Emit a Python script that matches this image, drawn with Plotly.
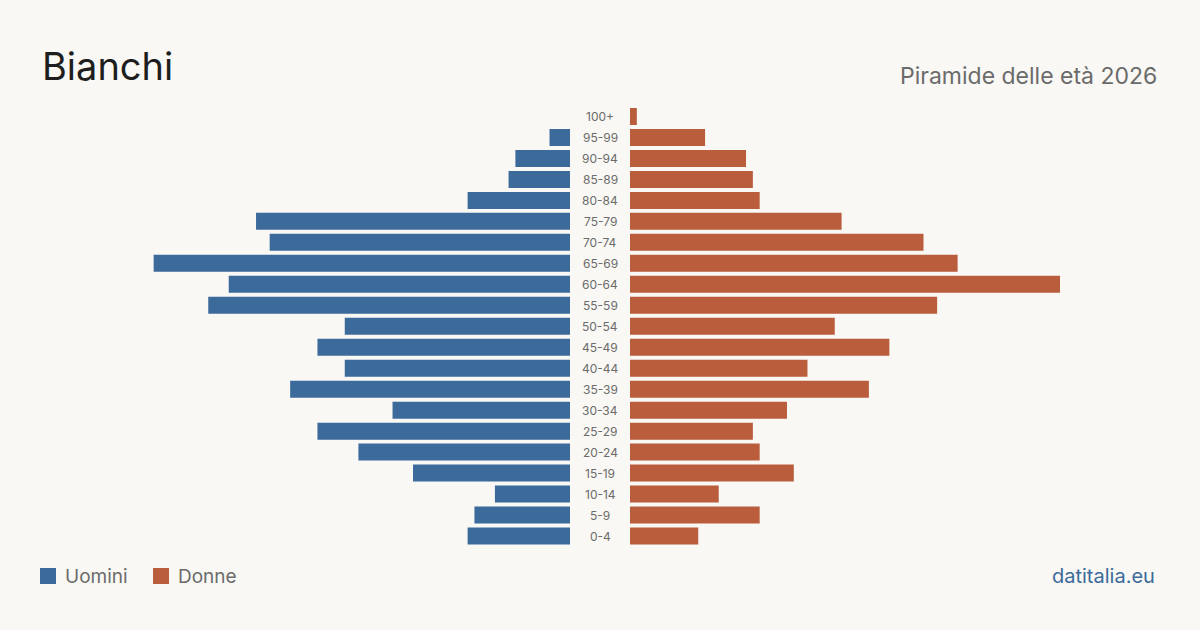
import plotly.graph_objects as go

age_groups = ["100+", "95-99", "90-94", "85-89", "80-84", "75-79", "70-74", "65-69",
              "60-64", "55-59", "50-54", "45-49", "40-44", "35-39", "30-34", "25-29",
              "20-24", "15-19", "10-14", "5-9", "0-4"]
uomini = [0, 3, 8, 9, 15, 46, 44, 61, 50, 53, 33, 37, 33, 41, 26, 37, 31, 23, 11, 14, 15]
donne = [1, 11, 17, 18, 19, 31, 43, 48, 63, 45, 30, 38, 26, 35, 23, 18, 19, 24, 13, 19, 10]

title = "Bianchi"
subtitle = "Piramide delle età 2026"
source = "datitalia.eu"

BLUE = "#3b6a9b"
ORANGE = "#b95d3c"
BG = "#f9f8f4"
FONT = "Inter, 'Noto Sans', sans-serif"

W, H = 1200, 630
XMAX = 63

fig = go.Figure()
fig.add_trace(go.Bar(y=age_groups, x=uomini, orientation="h", marker_color=BLUE,
                     marker_line_width=0,
                     xaxis="x", yaxis="y", name="Uomini", showlegend=False,
                     hovertemplate="%{y}: %{x}<extra>Uomini</extra>"))
fig.add_trace(go.Bar(y=age_groups, x=donne, orientation="h", marker_color=ORANGE,
                     marker_line_width=0,
                     xaxis="x2", yaxis="y", name="Donne", showlegend=False,
                     hovertemplate="%{y}: %{x}<extra>Donne</extra>"))

ytop, ybot = 106, 546.5
fig.update_layout(
    width=W, height=H,
    margin=dict(l=0, r=0, t=0, b=0),
    paper_bgcolor=BG, plot_bgcolor=BG,
    font=dict(family=FONT),
    bargap=0.19,
    xaxis=dict(domain=[140 / W, 570 / W], range=[XMAX, 0], autorange=False,
               visible=False, fixedrange=True),
    xaxis2=dict(domain=[630 / W, 1060 / W], range=[0, XMAX], visible=False, fixedrange=True),
    yaxis=dict(domain=[(H - ybot) / H, (H - ytop) / H], categoryorder="array",
               categoryarray=age_groups[::-1], range=[-0.5, len(age_groups) - 0.5],
               visible=False, fixedrange=True),
)

annotations = []
for g in age_groups:
    annotations.append(dict(x=600 / W, xref="paper", y=g, yref="y", text=g, showarrow=False,
                            xanchor="center", yanchor="middle",
                            font=dict(size=12, color="#6b6b6b", family=FONT)))

annotations += [
    dict(x=40 / W, y=(H - 66) / H, xref="paper", yref="paper", text=title, showarrow=False,
         xanchor="left", yanchor="middle", font=dict(size=38, color="#1e1e1e", family=FONT)),
    dict(x=1159 / W, y=(H - 76) / H, xref="paper", yref="paper", text=subtitle, showarrow=False,
         xanchor="right", yanchor="middle", font=dict(size=23, color="#6b6b6b", family=FONT)),
    dict(x=63 / W, y=(H - 576) / H, xref="paper", yref="paper", text="Uomini", showarrow=False,
         xanchor="left", yanchor="middle", font=dict(size=19, color="#6b6b6b", family=FONT)),
    dict(x=176 / W, y=(H - 576) / H, xref="paper", yref="paper", text="Donne", showarrow=False,
         xanchor="left", yanchor="middle", font=dict(size=19, color="#6b6b6b", family=FONT)),
    dict(x=1157 / W, y=(H - 576) / H, xref="paper", yref="paper", text=source, showarrow=False,
         xanchor="right", yanchor="middle", font=dict(size=20, color=BLUE, family=FONT)),
]
fig.update_layout(annotations=annotations)

fig.update_layout(shapes=[
    dict(type="rect", xref="paper", yref="paper", x0=40 / W, x1=56 / W,
         y0=(H - 584) / H, y1=(H - 568) / H, fillcolor=BLUE, line_width=0),
    dict(type="rect", xref="paper", yref="paper", x0=153 / W, x1=169 / W,
         y0=(H - 584) / H, y1=(H - 568) / H, fillcolor=ORANGE, line_width=0),
])

fig.write_html("out.html", config={"displayModeBar": False})
